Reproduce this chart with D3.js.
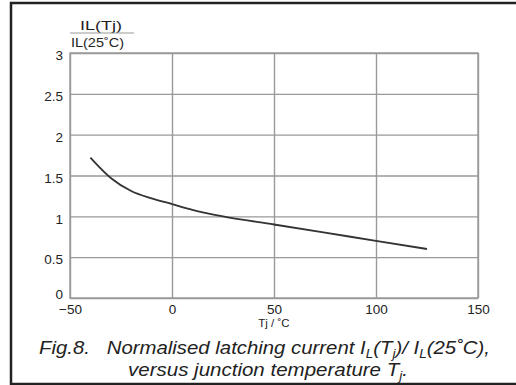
<!DOCTYPE html>
<html>
<head>
<meta charset="utf-8">
<script src="https://cdn.jsdelivr.net/npm/d3@7"></script>
<style>
  body { margin: 0; background: #fff; }
  svg { display: block; font-family: "Liberation Sans", Arial, sans-serif; }
  .axis text { fill: #222; font-size: 13.5px; }
</style>
</head>
<body>
<div id="chart"></div>
<script>
// junction temperature (deg C) and normalised latching current
const tj = [-40, -30, -20, -10, 0, 10, 25, 50, 75, 100, 125];
const ratio = [1.72, 1.47, 1.31, 1.22, 1.15, 1.08, 1.00, 0.90, 0.80, 0.70, 0.60];
const xTicks = [-50, 0, 50, 100, 150];
const yTicks = [0, 0.5, 1, 1.5, 2, 2.5, 3];

const W = 516, H = 385;
const margin = {top: 53, right: 38, bottom: 87, left: 70},
  width = W - margin.left - margin.right,
  height = H - margin.top - margin.bottom;

const svg = d3.select('#chart')
  .append('svg')
  .attr('width', W)
  .attr('height', H);

// outer frame (right side runs off the picture)
svg.append('rect')
  .attr('x', 11).attr('y', 3)
  .attr('width', W + 20).attr('height', 381)
  .attr('fill', 'none')
  .attr('stroke', '#222')
  .attr('stroke-width', 2.5);

const g = svg.append('g')
  .attr('transform', 'translate(' + margin.left + ',' + margin.top + ')');

const x = d3.scaleLinear().domain([-50, 150]).range([0, width]);
const y = d3.scaleLinear().domain([0, 3]).range([height, 0]);

// grid + tick labels
g.append('g')
  .attr('class', 'axis')
  .attr('transform', 'translate(0,' + height + ')')
  .call(d3.axisBottom(x).tickValues(xTicks).tickSize(-height).tickSizeOuter(0).tickPadding(6)
    .tickFormat(d3.format('d')))
  .call(a => a.select('.domain').remove())
  .call(a => a.selectAll('line').attr('stroke', '#999').attr('stroke-width', 1.4));

g.append('g')
  .attr('class', 'axis')
  .call(d3.axisLeft(y).tickValues(yTicks).tickSize(-width).tickSizeOuter(0).tickPadding(7)
    .tickFormat(d => d))
  .call(a => a.select('.domain').remove())
  .call(a => a.selectAll('line').attr('stroke', '#999').attr('stroke-width', 1.4))
  .call(a => a.selectAll('text').attr('dy', d => d === 0 ? '0.05em' : '0.5em'));

// frame of plot area
g.append('rect')
  .attr('width', width).attr('height', height)
  .attr('fill', 'none')
  .attr('stroke', '#999')
  .attr('stroke-width', 1.4);

// curve
const line = d3.line()
  .x((d, i) => x(tj[i]))
  .y(d => y(d))
  .curve(d3.curveMonotoneX);

g.append('path')
  .datum(ratio)
  .attr('fill', 'none')
  .attr('stroke', '#333')
  .attr('stroke-width', 1.8)
  .attr('d', line);

// y axis label as fraction
svg.append('text')
  .attr('x', 80).attr('y', 30)
  .attr('font-size', 13.5).attr('fill', '#222')
  .attr('textLength', 42).attr('lengthAdjust', 'spacingAndGlyphs')
  .text('IL(Tj)');
svg.append('line')
  .attr('x1', 70).attr('x2', 134)
  .attr('y1', 33).attr('y2', 33)
  .attr('stroke', '#999').attr('stroke-width', 1.2);
svg.append('text')
  .attr('x', 71).attr('y', 47)
  .attr('font-size', 13.5).attr('fill', '#222')
  .attr('textLength', 53).attr('lengthAdjust', 'spacingAndGlyphs')
  .text('IL(25˚C)');

// x axis title
svg.append('text')
  .attr('x', margin.left + x(50)).attr('y', 327)
  .attr('text-anchor', 'middle')
  .attr('font-size', 11.5).attr('fill', '#222')
  .text('Tj / ˚C');

// caption
const cap = svg.append('g')
  .attr('font-style', 'italic')
  .attr('font-size', 18)
  .attr('fill', '#222');

const c1 = cap.append('text')
  .attr('x', 39).attr('y', 354)
  .attr('textLength', 451).attr('lengthAdjust', 'spacingAndGlyphs')
  .attr('xml:space', 'preserve');
c1.append('tspan').text('Fig.8.   Normalised latching current I');
c1.append('tspan').attr('font-size', 12).attr('dy', 4).text('L');
c1.append('tspan').attr('dy', -4).text('(T');
c1.append('tspan').attr('font-size', 12).attr('dy', 4).text('j');
c1.append('tspan').attr('dy', -4).text(')/ I');
c1.append('tspan').attr('font-size', 12).attr('dy', 4).text('L');
c1.append('tspan').attr('dy', -4).text('(25˚C),');

const c2 = cap.append('text')
  .attr('x', 128).attr('y', 376)
  .attr('textLength', 280).attr('lengthAdjust', 'spacingAndGlyphs');
c2.append('tspan').text('versus junction temperature T');
c2.append('tspan').attr('font-size', 12).attr('dy', 4).text('j');
c2.append('tspan').attr('dy', -4).text('.');
</script>
</body>
</html>
